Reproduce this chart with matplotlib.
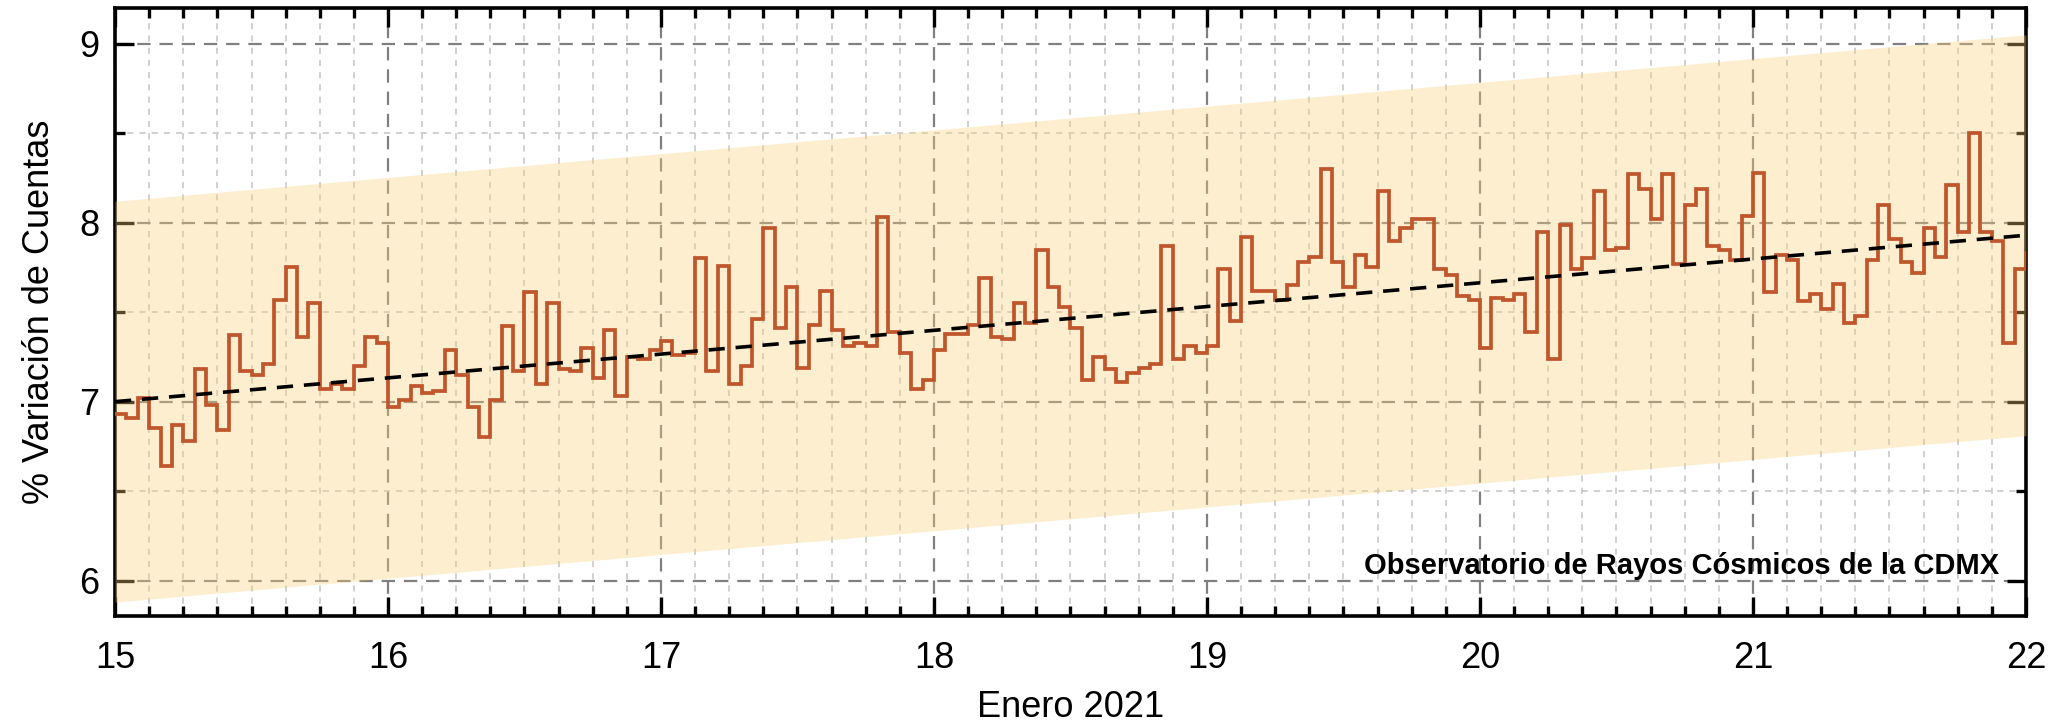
import matplotlib

matplotlib.use("Agg")
import matplotlib.pyplot as plt
import numpy as np
from matplotlib.ticker import MultipleLocator

plt.rcParams["font.family"] = ["Liberation Sans", "DejaVu Sans"]

# hourly count variation (%) starting 15 Jan 2021 00:00
DAY_START = 15
HOURS_PER_DAY = 24
counts = [
    6.93, 6.91, 7.02, 6.85, 6.64, 6.87, 6.78, 7.18, 6.98, 6.84,
    7.37, 7.17, 7.15, 7.21, 7.57, 7.75, 7.36, 7.55, 7.07, 7.10,
    7.07, 7.20, 7.36, 7.33, 6.97, 7.01, 7.09, 7.05, 7.06, 7.29,
    7.15, 6.97, 6.80, 7.01, 7.42, 7.17, 7.61, 7.10, 7.55, 7.18,
    7.17, 7.30, 7.13, 7.40, 7.03, 7.25, 7.24, 7.29, 7.34, 7.26,
    7.27, 7.80, 7.17, 7.76, 7.10, 7.20, 7.46, 7.97, 7.41, 7.64,
    7.19, 7.43, 7.62, 7.40, 7.31, 7.33, 7.31, 8.03, 7.39, 7.27,
    7.07, 7.12, 7.29, 7.38, 7.38, 7.43, 7.69, 7.36, 7.35, 7.55,
    7.44, 7.85, 7.64, 7.53, 7.41, 7.12, 7.25, 7.18, 7.11, 7.16,
    7.19, 7.21, 7.87, 7.24, 7.31, 7.27, 7.31, 7.74, 7.45, 7.92,
    7.62, 7.62, 7.57, 7.65, 7.78, 7.81, 8.30, 7.78, 7.64, 7.82,
    7.75, 8.18, 7.90, 7.97, 8.02, 8.02, 7.74, 7.71, 7.59, 7.57,
    7.30, 7.58, 7.57, 7.60, 7.39, 7.95, 7.24, 7.99, 7.74, 7.80,
    8.18, 7.85, 7.86, 8.27, 8.19, 8.02, 8.27, 7.77, 8.10, 8.19,
    7.87, 7.85, 7.79, 8.04, 8.28, 7.61, 7.82, 7.79, 7.56, 7.60,
    7.52, 7.66, 7.44, 7.48, 7.79, 8.10, 7.91, 7.78, 7.72, 7.97,
    7.81, 8.21, 7.95, 8.50, 7.95, 7.90, 7.33, 7.74, 7.83,
]

# linear trend and its confidence band
trend_x = [15.0, 22.0]
trend_y = [7.00, 7.93]
band_halfwidth = 1.12

x_ticks = [15, 16, 17, 18, 19, 20, 21, 22]
y_ticks = [6, 7, 8, 9]

edges = DAY_START + np.arange(len(counts) + 1) / HOURS_PER_DAY
tx = np.array(trend_x)
ty = np.array(trend_y)

fig = plt.figure(figsize=(20.61, 7.26), dpi=100)
ax = fig.add_axes([0.0558, 0.151, 0.9272, 0.838])

ax.fill_between(tx, ty - band_halfwidth, ty + band_halfwidth,
                color="#f9d176", alpha=0.35, lw=0, zorder=2.6)
ax.stairs(counts, edges, baseline=None, color="#c0562c", lw=2.7, zorder=3)
ax.plot(tx, ty, color="black", lw=2.6, ls=(0, (4.5, 3)), zorder=4)

ax.set_xlim(15, 22)
ax.set_ylim(5.8, 9.2)
ax.set_xticks(x_ticks)
ax.set_yticks(y_ticks)
ax.xaxis.set_minor_locator(MultipleLocator(1 / 8))
ax.yaxis.set_minor_locator(MultipleLocator(0.5))

ax.grid(which="major", color="#808080", lw=1.6, ls=(0, (6, 4)))
ax.grid(which="minor", color="#c4c4c4", lw=1.1, ls=(0, (4, 4)))

ax.tick_params(which="both", direction="in", top=True, right=True, width=2.4)
ax.tick_params(which="major", length=14)
ax.tick_params(which="minor", length=7)
ax.tick_params(axis="x", labelsize=26, pad=18)
ax.tick_params(axis="y", labelsize=26, pad=11)
for spine in ax.spines.values():
    spine.set_linewidth(2.6)

ax.set_xlabel("Enero 2021", fontsize=26, labelpad=10)
ax.set_ylabel("% Variación de Cuentas", fontsize=26, labelpad=16)

ax.text(0.986, 0.082, "Observatorio de Rayos Cósmicos de la CDMX",
        transform=ax.transAxes, ha="right", va="center",
        fontsize=21, fontweight="bold", zorder=5)

fig.savefig("out.png", dpi=100)
